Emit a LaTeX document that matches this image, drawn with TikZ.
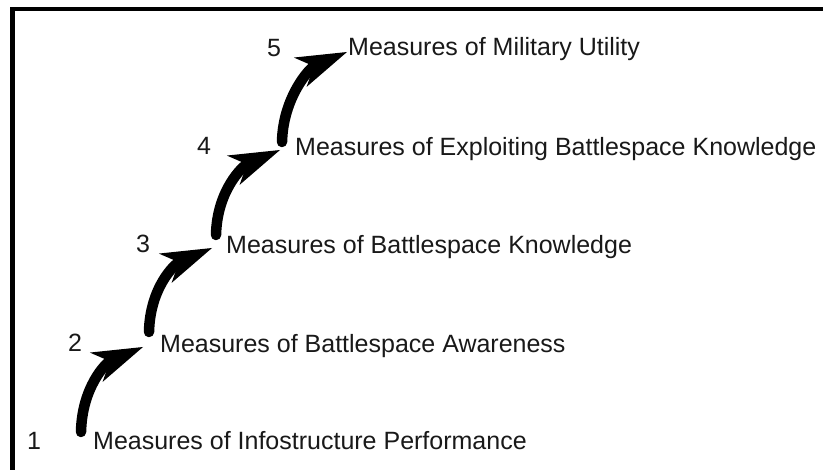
\documentclass[tikz,border=0pt]{standalone}
\usepackage{fontspec}
\setmainfont{Liberation Sans}
\usetikzlibrary{arrows.meta}
\begin{document}
\begin{tikzpicture}[x=1bp,y=-1bp,
  lbl/.style={anchor=base west, inner sep=0pt, font=\fontsize{25bp}{30bp}\selectfont, text=black!90},
  steparrow/.style={line width=10.5bp, line cap=round,
    -{Stealth[length=51bp,width=32bp,inset=15bp,line width=0pt]}}]
\useasboundingbox (0,0) rectangle (823,470);
\fill[white] (0,0) rectangle (823,470);
\draw[line width=4.5bp] (12.5,470) -- (12.5,9) -- (823,9);

% level labels
\node[lbl] (m1) at (93,449) {Measures of Infostructure Performance};
\node[lbl] (m2) at (160,353) {Measures of Battlespace Awareness};
\node[lbl] (m3) at (226,254) {Measures of Battlespace Knowledge};
\node[lbl] (m4) at (295,156) {Measures of Exploiting Battlespace Knowledge};
\node[lbl] (m5) at (348,56) {Measures of Military Utility};

% numbers
\node[lbl] (n1) at (27,449) {1};
\node[lbl] (n2) at (68,352) {2};
\node[lbl] (n3) at (136,253) {3};
\node[lbl] (n4) at (197,155) {4};
\node[lbl] (n5) at (267,57) {5};

% arrow ends
\coordinate (s1) at (81,432);  \coordinate (e1) at (143,347);
\coordinate (s2) at (149,332); \coordinate (e2) at (212,248);
\coordinate (s3) at (216,235); \coordinate (e3) at (280,150);
\coordinate (s4) at (282,142); \coordinate (e4) at (347,52);

\foreach \i in {1,2,3,4}{
  \draw[steparrow] (s\i) .. controls +(1,-45) and +(-37,16) .. (e\i);
}
\end{tikzpicture}
\end{document}
